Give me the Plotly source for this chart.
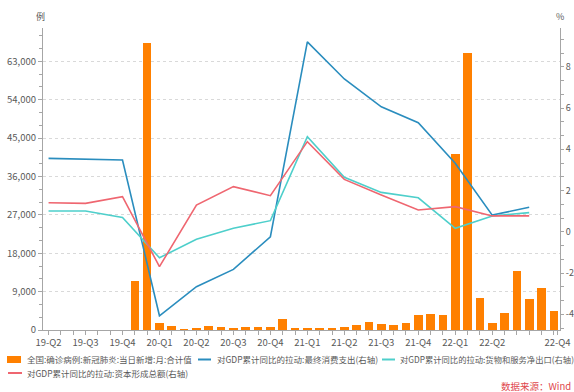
import plotly.graph_objects as go

# ---------------- data ----------------
# monthly axis: 2019-06 ... 2022-11
months = [f"{y}-{m:02d}" for y in range(2019, 2023) for m in range(1, 13)]
months = months[months.index("2019-06"):months.index("2022-11") + 1]

case_months = [f"{y}-{m:02d}" for y in range(2020, 2023) for m in range(1, 13)]
case_months = case_months[:case_months.index("2022-11") + 1]
new_cases = [11500, 67400, 1720, 1000, 150, 550, 860, 780, 400, 620, 620, 620,
             2500, 310, 310, 470, 470, 700, 1250, 1870, 1330, 1100, 1640, 3440,
             3830, 3440, 41200, 65000, 7570, 1600, 3900, 13830, 7190, 9920, 4450]

quarter_months = ["2019-06", "2019-09", "2019-12", "2020-03", "2020-06", "2020-09",
                  "2020-12", "2021-03", "2021-06", "2021-09", "2021-12", "2022-03",
                  "2022-06", "2022-09"]
consumption = [3.56, 3.53, 3.48, -4.07, -2.66, -1.82, -0.24, 9.21, 7.41, 6.06, 5.29, 3.32, 0.81, 1.19]
net_exports = [1.01, 1.01, 0.70, -1.26, -0.36, 0.17, 0.54, 4.61, 2.64, 1.91, 1.65, 0.17, 0.77, 0.93]
capital = [1.41, 1.38, 1.70, -1.69, 1.30, 2.19, 1.75, 4.37, 2.54, 1.78, 1.06, 1.22, 0.77, 0.77]

tick_months = ["2019-06", "2019-09", "2019-12", "2020-03", "2020-06", "2020-09", "2020-12",
               "2021-03", "2021-06", "2021-09", "2021-12", "2022-03", "2022-06"]
tick_labels = ["19-Q2", "19-Q3", "19-Q4", "20-Q1", "20-Q2", "20-Q3", "20-Q4",
               "21-Q1", "21-Q2", "21-Q3", "21-Q4", "22-Q1", "22-Q2"]
last_label = "22-Q4"
right_ticks = [-4, -2, 0, 2, 4, 6, 8]
right_labels = ["-4", "-2", "0", "2", "4", "6", "8"]

name_bar = "全国:确诊病例:新冠肺炎:当日新增:月:合计值"
name_cons = "对GDP累计同比的拉动:最终消费支出(右轴)"
name_net = "对GDP累计同比的拉动:货物和服务净出口(右轴)"
name_cap = "对GDP累计同比的拉动:资本形成总额(右轴)"

# ---------------- styling ----------------
C_BAR = "#FF8000"
C_CONS = "#2A8DBE"
C_NET = "#4ECFCB"
C_CAP = "#EF6670"
AX = "#A6A6A6"
TXT = "#595959"
FONT = "Noto Sans CJK SC"

def xi(m):
    return months.index(m)

fig = go.Figure()
fig.add_trace(go.Bar(x=[xi(m) for m in case_months], y=new_cases, marker_color=C_BAR,
                     marker_line_width=0, width=0.7, name=name_bar, yaxis="y"))
for vals, col, nm in [(consumption, C_CONS, name_cons), (net_exports, C_NET, name_net),
                      (capital, C_CAP, name_cap)]:
    fig.add_trace(go.Scatter(x=[xi(m) for m in quarter_months], y=vals, mode="lines",
                             line=dict(color=col, width=1.6), name=nm, yaxis="y2"))

L, R, T, B = 43, 560, 28, 330
W, H = 574, 392

def px(X, Y):
    return (X - L) / (R - L), (B - Y) / (B - T)

shapes = []
annotations = []

def legend_rect(x0, y0, x1, y1, col):
    a = px(x0, y0); b = px(x1, y1)
    shapes.append(dict(type="rect", xref="paper", yref="paper", x0=a[0], y0=a[1], x1=b[0], y1=b[1],
                       fillcolor=col, line_width=0, layer="above"))

def legend_line(x0, x1, y, col):
    a = px(x0, y); b = px(x1, y)
    shapes.append(dict(type="line", xref="paper", yref="paper", x0=a[0], y0=a[1], x1=b[0], y1=b[1],
                       line=dict(color=col, width=2), layer="above"))

def text(X, Y, s, size=8.5, color=TXT, xanchor="left"):
    p = px(X, Y)
    annotations.append(dict(xref="paper", yref="paper", x=p[0], y=p[1], text=s, showarrow=False,
                            xanchor=xanchor, yanchor="middle", font=dict(size=size, color=color, family=FONT)))

legend_rect(7, 356, 21, 363, C_BAR)
text(25, 359.5, name_bar)
legend_line(198, 211, 359.5, C_CONS)
text(215, 359.5, name_cons)
legend_line(382, 395, 359.5, C_NET)
text(398, 359.5, name_net, size=8.3)
legend_line(8, 22, 373, C_CAP)
text(25, 373, name_cap)
text(573, 386, "数据来源：Wind", size=9.5, color="#E0474C", xanchor="right")
text(40, 16, "例", size=9, xanchor="center")
text(560, 17, "%", size=9, xanchor="center")

fig.update_layout(
    width=W, height=H,
    margin=dict(l=L, r=W - R, t=T, b=H - B, pad=0),
    paper_bgcolor="white", plot_bgcolor="white",
    showlegend=False,
    font=dict(family=FONT, size=9.5, color=TXT),
    bargap=0,
    shapes=shapes, annotations=annotations,
    xaxis=dict(range=[-0.45, 41.5], tickvals=[xi(m) for m in tick_months] + [41.3],
               ticktext=tick_labels + [last_label], showgrid=False, zeroline=False,
               showline=True, linecolor=AX, linewidth=1, ticks="outside", ticklen=4,
               tickcolor=AX, minor=dict(dtick=1, tick0=0, ticks="outside", ticklen=4, tickcolor=AX),
               tickfont=dict(size=9.5, color=TXT), automargin=False),
    yaxis=dict(range=[0, 70800], tickvals=[0, 9000, 18000, 27000, 36000, 45000, 54000, 63000],
               tickformat=",", showgrid=True, gridcolor="#D9D9D9", griddash="3px,3px", gridwidth=1,
               zeroline=False, showline=True, linecolor=AX, linewidth=1, ticks="outside",
               ticklen=4, tickcolor=AX,
               minor=dict(dtick=3000, tick0=0, ticks="outside", ticklen=3, tickcolor=AX, showgrid=False),
               tickfont=dict(size=9.5, color=TXT), automargin=False),
    yaxis2=dict(range=[-4.76, 9.88], overlaying="y", side="right", tickvals=right_ticks,
                ticktext=right_labels,
                showgrid=False, zeroline=False, showline=True, linecolor=AX, linewidth=1,
                ticks="outside", ticklen=3, tickcolor=AX,
                minor=dict(dtick=2 / 3, tick0=0, ticks="outside", ticklen=3, tickcolor=AX, showgrid=False),
                tickfont=dict(size=9, color=TXT), automargin=False),
)

fig.write_html("out.html")
